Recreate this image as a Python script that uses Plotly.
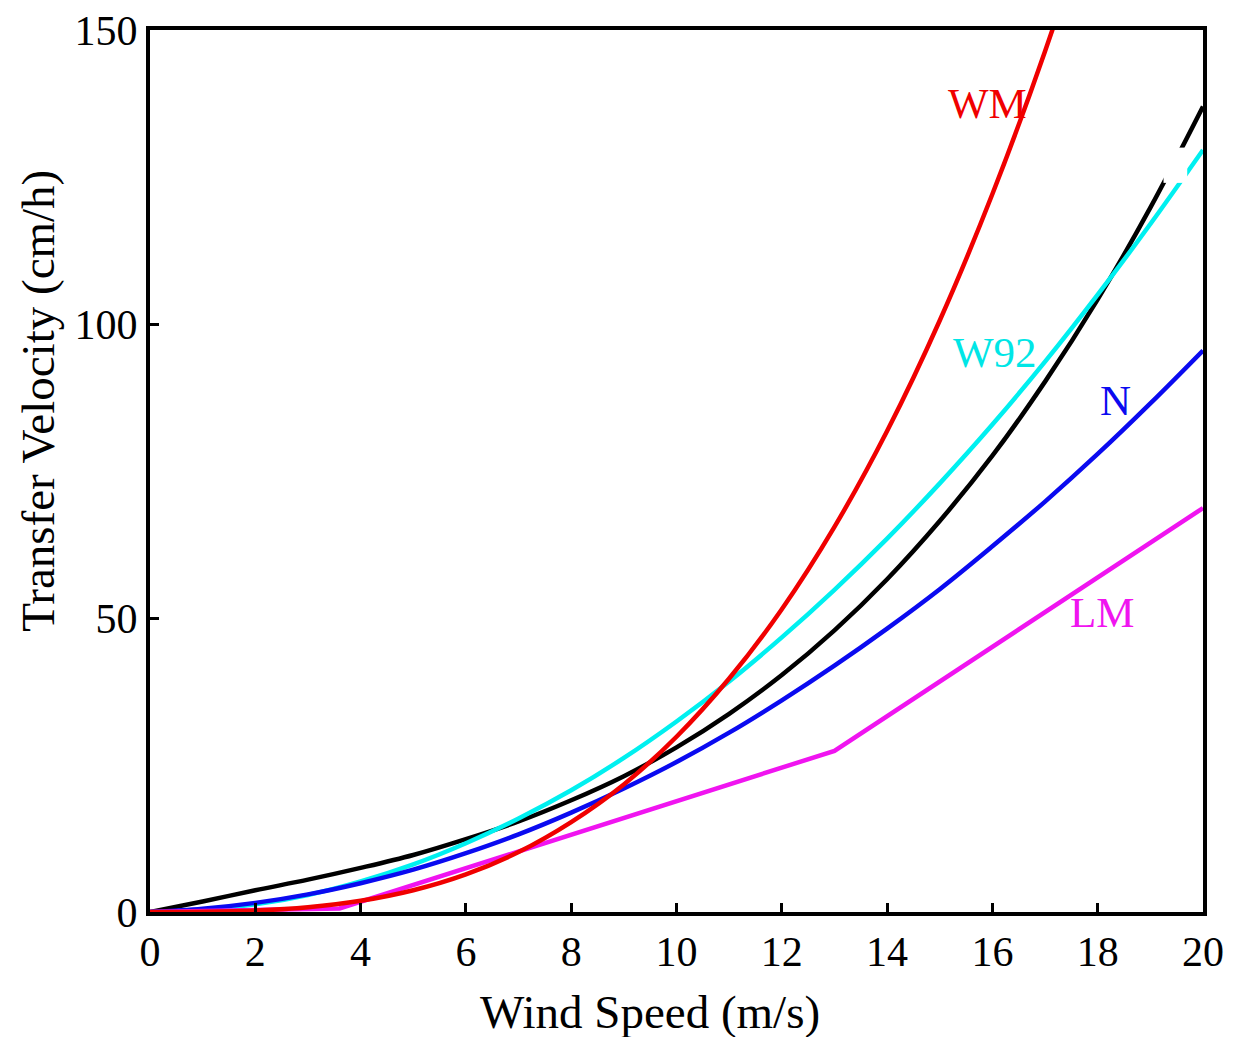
import plotly.graph_objects as go

# Wind speed (m/s)
wind = [0, 1, 2, 3, 4, 5, 6, 7, 8, 9, 10, 11, 12, 13, 14, 15, 16, 17, 18, 19, 20]

# Transfer velocity (cm/h)
wm = [0, 0.03, 0.24, 0.8, 1.9, 3.7, 6.4, 10.2, 15.3, 21.7, 29.8, 39.7, 51.5, 65.5, 81.8, 100.6, 122.1, 146.4, 173.8, 204.4, 238.4]
w92 = [0, 0.32, 1.3, 2.9, 5.2, 8.1, 11.7, 15.9, 20.7, 26.2, 32.4, 39.2, 46.7, 54.8, 63.5, 72.9, 82.9, 93.6, 105.0, 117.0, 129.6]
nn = [0, 0.56, 1.55, 3.0, 4.9, 7.2, 10.0, 13.2, 16.9, 21.0, 25.5, 30.5, 36.0, 41.9, 48.2, 54.9, 62.2, 69.8, 77.9, 86.5, 95.5]
blk = [0, 1.8, 3.7, 5.5, 7.5, 9.7, 12.4, 15.4, 19.0, 23.1, 28.0, 33.7, 40.3, 47.9, 56.6, 66.5, 77.6, 90.2, 104.2, 119.8, 137.0]
lm_wind = [0, 3.6, 13, 20]
lm = [0, 0.61, 27.4, 68.7]

x_ticks = [0, 2, 4, 6, 8, 10, 12, 14, 16, 18, 20]
y_ticks = [0, 50, 100, 150]

FONT = "Liberation Serif"
LW = 4.5

fig = go.Figure()
fig.add_trace(go.Scatter(x=wind, y=blk, mode="lines", line=dict(color="black", width=LW, shape="spline")))
fig.add_trace(go.Scatter(x=wind, y=w92, mode="lines", line=dict(color="#00F0F0", width=LW, shape="spline")))
fig.add_trace(go.Scatter(x=wind, y=nn, mode="lines", line=dict(color="#0A0AF0", width=LW, shape="spline")))
fig.add_trace(go.Scatter(x=lm_wind, y=lm, mode="lines", line=dict(color="#F014F0", width=LW)))
fig.add_trace(go.Scatter(x=wind, y=wm, mode="lines", line=dict(color="#F00000", width=LW, shape="spline")))

labels = [("WM", 15.9, 137.5, "#F00000"), ("W92", 16.05, 95.2, "#00E6E6"),
          ("N", 18.33, 87.0, "#0A0AF0"), ("LM", 18.1, 51.0, "#F014F0")]
for t, x, y, c in labels:
    fig.add_annotation(x=x, y=y, text=t, showarrow=False,
                       font=dict(family=FONT, size=43, color=c))

# blank label box seen in the reference
fig.add_shape(type="rect", x0=19.25, x1=19.7, y0=124, y1=130, xref="x", yref="y",
              fillcolor="white", line=dict(width=0), layer="above")

# axis titles
fig.add_annotation(text="Wind Speed (m/s)", xref="paper", yref="paper", x=0.475, y=-0.113,
                   showarrow=False, xanchor="center", yanchor="middle",
                   font=dict(family=FONT, size=47, color="black"))
fig.add_annotation(text="Transfer Velocity (cm/h)", xref="paper", yref="paper", x=-0.106, y=0.58,
                   showarrow=False, xanchor="center", yanchor="middle", textangle=-90,
                   font=dict(family=FONT, size=47, color="black"))

axis_common = dict(showline=True, linecolor="black", linewidth=4, mirror=True,
                   ticks="inside", ticklen=9, tickwidth=3, tickcolor="black",
                   showgrid=False, zeroline=False, ticklabeloverflow="allow",
                   automargin=False,
                   tickfont=dict(family=FONT, size=42, color="black"))

fig.update_xaxes(range=[0, 20], tickvals=x_ticks, **axis_common)
fig.update_yaxes(range=[0, 150], tickvals=y_ticks, **axis_common)

fig.update_layout(width=1239, height=1037, showlegend=False,
                  plot_bgcolor="white", paper_bgcolor="white",
                  margin=dict(l=142, r=44, t=22, b=133, autoexpand=False))

fig.write_html("out.html")
